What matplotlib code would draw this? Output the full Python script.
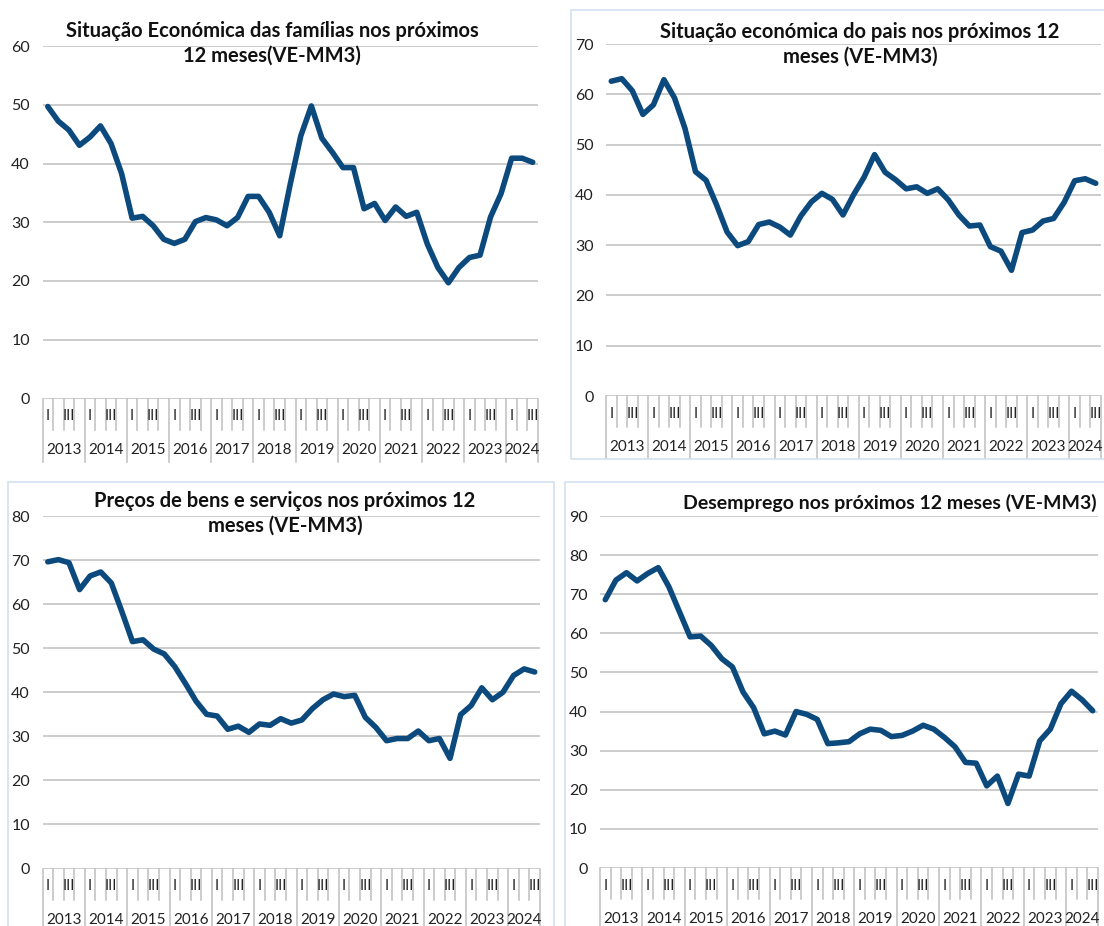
import matplotlib
matplotlib.use("Agg")
import matplotlib.pyplot as plt
from matplotlib.patches import Rectangle

# ---------------- data ----------------
years = ["2013", "2014", "2015", "2016", "2017", "2018", "2019", "2020",
         "2021", "2022", "2023", "2024"]
quarters_per_year = [4, 4, 4, 4, 4, 4, 4, 4, 4, 4, 4, 3]
quarter_labels = ["I", "", "III", ""]

familias = [49.7, 47.2, 45.7, 43.1, 44.5, 46.4, 43.4, 38.3, 30.7, 31.0,
            29.4, 27.1, 26.4, 27.1, 30.1, 30.8, 30.4, 29.4, 30.8, 34.4,
            34.4, 31.7, 27.7, 36.5, 44.7, 49.8, 44.3, 41.9, 39.3, 39.3,
            32.3, 33.2, 30.3, 32.6, 31.0, 31.7, 26.3, 22.3, 19.7, 22.3,
            24.0, 24.4, 30.9, 34.9, 40.9, 40.9, 40.2]
pais = [62.6, 63.1, 60.7, 56.0, 57.9, 62.9, 59.3, 53.2, 44.6, 42.9,
        38.0, 32.6, 29.9, 30.7, 34.1, 34.6, 33.6, 32.0, 35.8, 38.6,
        40.3, 39.1, 36.0, 40.0, 43.5, 48.0, 44.5, 43.0, 41.2, 41.6,
        40.3, 41.2, 39.0, 36.0, 33.8, 34.0, 29.7, 28.8, 25.0, 32.5,
        33.0, 34.8, 35.3, 38.5, 42.8, 43.2, 42.3]
precos = [69.6, 70.1, 69.4, 63.3, 66.4, 67.3, 64.8, 58.3, 51.5, 51.9,
          49.8, 48.7, 45.8, 42.0, 38.0, 35.0, 34.6, 31.6, 32.3, 30.9,
          32.8, 32.5, 34.0, 33.0, 33.7, 36.3, 38.3, 39.6, 39.0, 39.3,
          34.3, 32.0, 29.0, 29.5, 29.5, 31.2, 29.0, 29.5, 25.0, 34.9,
          37.0, 41.0, 38.3, 40.0, 43.8, 45.3, 44.6]
desemprego = [68.6, 73.6, 75.5, 73.4, 75.3, 76.8, 71.9, 65.5, 59.1, 59.3,
              56.9, 53.5, 51.4, 45.0, 41.0, 34.3, 35.0, 34.0, 40.0, 39.3,
              38.0, 31.8, 32.0, 32.3, 34.3, 35.5, 35.2, 33.6, 33.9, 35.0,
              36.5, 35.5, 33.4, 31.0, 27.0, 26.8, 21.0, 23.5, 16.5, 24.0,
              23.5, 32.5, 35.5, 42.0, 45.2, 43.0, 40.2]

titles = ["Situação Económica das famílias nos próximos\n12 meses(VE-MM3)",
          "Situação económica do pais nos próximos 12\nmeses (VE-MM3)",
          "Preços de bens e serviços nos próximos 12\nmeses (VE-MM3)",
          "Desemprego nos próximos 12 meses (VE-MM3)"]
y_max = [60, 70, 80, 90]

# ---------------- style ----------------
W, H = 1104, 926
FONT = ["Lato", "DejaVu Sans"]
plt.rcParams["font.family"] = FONT
LINE_COLOR = "#0C4A7E"
GRID_COLOR = "#BFBFBF"
BORDER_COLOR = "#D6E3F1"
TEXT_COLOR = "#222222"

fig = plt.figure(figsize=(W / 100, H / 100), dpi=100)
fig.patch.set_facecolor("white")

# panel borders (pixel boxes: left, top, right, bottom)
borders = [(571, 10, 1110, 459), (8, 482, 553.5, 940), (565, 482, 1110, 940)]
for (l, t, r, b) in borders:
    fig.patches.append(Rectangle((l / W, 1 - b / H), (r - l) / W, (b - t) / H,
                                 transform=fig.transFigure, fill=False,
                                 edgecolor=BORDER_COLOR, linewidth=1.3))

# plot areas in pixels: left, right, top (y max), bottom (y=0)
areas = [(42.5, 538.0, 46.0, 398.5),
         (606.0, 1101.0, 44.0, 396.0),
         (42.5, 540.0, 516.0, 868.5),
         (600.0, 1098.0, 516.0, 868.0)]
title_pos = [(272, 43), (860, 44), (285, 513), (890, 503)]
title_size = [14.5, 14.5, 14.5, 14.0]
series = [familias, pais, precos, desemprego]

n = sum(quarters_per_year)
xs = list(range(n))

for k in range(4):
    L, R, T, B = areas[k]
    hpx = B - T
    ax = fig.add_axes([L / W, 1 - B / H, (R - L) / W, hpx / H])
    ax.set_xlim(-0.5, n - 0.5)
    ax.set_ylim(0, y_max[k])
    ax.set_yticks(range(0, y_max[k] + 1, 10))
    ax.yaxis.grid(True, color=GRID_COLOR, linewidth=1.1)
    ax.set_axisbelow(True)
    for s in ax.spines.values():
        s.set_visible(False)
    ax.tick_params(axis="y", length=0, pad=9, labelsize=11.5, labelcolor=TEXT_COLOR)
    ax.set_xticks([])
    ax.patch.set_alpha(0)

    ax.plot(xs, series[k], color=LINE_COLOR, linewidth=4.0,
            solid_joinstyle="round", solid_capstyle="round", zorder=3)

    # multi-level category axis
    tr = ax.get_xaxis_transform()
    short_end = -31 / hpx
    full_end = -63 / hpx
    q_y = -18 / hpx
    yr_y = -51 / hpx
    idx = 0
    for yi, (yr, nq) in enumerate(zip(years, quarters_per_year)):
        ax.plot([idx - 0.5, idx - 0.5], [0, full_end], transform=tr,
                color=GRID_COLOR, linewidth=1.1, clip_on=False)
        for q in range(nq):
            if q > 0:
                ax.plot([idx + q - 0.5, idx + q - 0.5], [0, short_end],
                        transform=tr, color=GRID_COLOR, linewidth=1.1,
                        clip_on=False)
            if quarter_labels[q]:
                ax.text(idx + q, q_y, quarter_labels[q], transform=tr,
                        ha="center", va="center", fontsize=10.5,
                        color=TEXT_COLOR, clip_on=False)
        ax.text(idx + (nq - 1) / 2, yr_y, yr, transform=tr, ha="center",
                va="center", fontsize=11, color=TEXT_COLOR, clip_on=False)
        idx += nq
    ax.plot([idx - 0.5, idx - 0.5], [0, full_end], transform=tr,
            color=GRID_COLOR, linewidth=1.1, clip_on=False)

    tx, ty = title_pos[k]
    fig.text(tx / W, 1 - ty / H, titles[k], ha="center", va="center",
             multialignment="center", fontsize=title_size[k], fontweight="bold",
             color="#111111", linespacing=1.3)

fig.savefig("out.png", dpi=100, facecolor="white")
